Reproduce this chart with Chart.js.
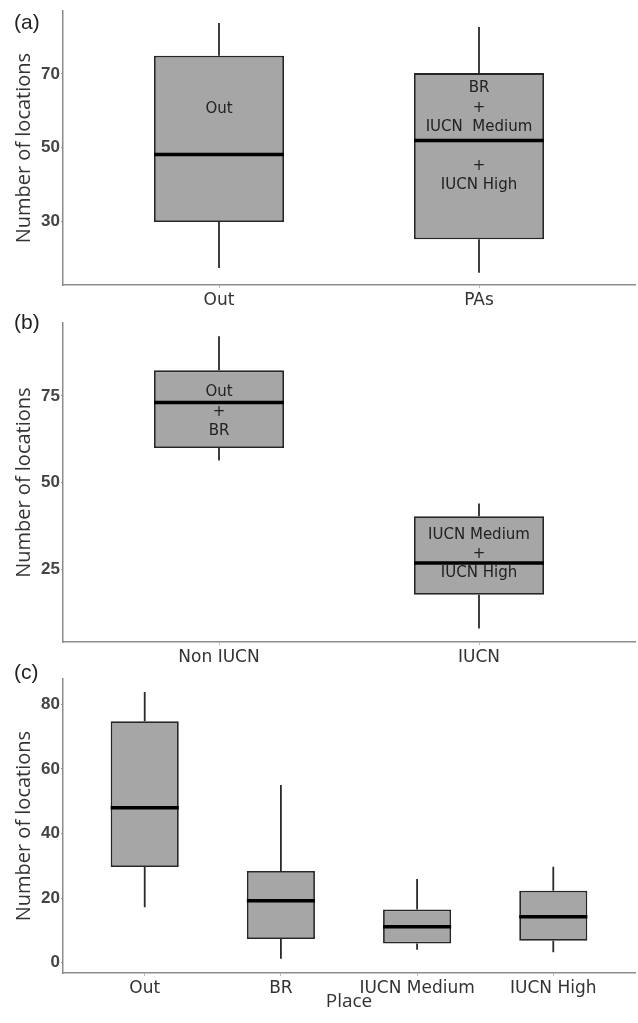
<!DOCTYPE html>
<html>
<head>
<meta charset="utf-8">
<script src="https://cdn.jsdelivr.net/npm/chart.js@4/dist/chart.umd.min.js"></script>
<style>
  body { margin: 0; background: #fff; width: 638px; height: 1023px; position: relative; overflow: hidden; }
  canvas { position: absolute; left: 0; }
  .tag { position: absolute; left: 14px; font: 21px "Liberation Sans", Arial, sans-serif; color: #222; }
</style>
</head>
<body>
<canvas id="chartA" width="638" height="312" style="top:0"></canvas>
<canvas id="chartB" width="638" height="356" style="top:312px"></canvas>
<canvas id="chartC" width="638" height="355" style="top:668px"></canvas>
<div class="tag" style="top:10px">(a)</div>
<div class="tag" style="top:310px">(b)</div>
<div class="tag" style="top:660px">(c)</div>
<script>
// (a) outside vs protected areas
const catsA = ['Out', 'PAs'];
const loA = [17.3, 16.0];
const q1A = [29.8, 25.1];
const medA = [48.1, 51.9];
const q3A = [74.9, 70.2];
const hiA = [83.8, 82.7];
const yTicksA = [30, 50, 70];
const notesA = [['Out'], ['BR', '+', 'IUCN  Medium', '', '+', 'IUCN High']];
const noteTopA = [60.4, 66.0];

// (b) non IUCN vs IUCN
const catsB = ['Non IUCN', 'IUCN'];
const loB = [56.4, 7.9];
const q1B = [60.0, 17.6];
const medB = [73.1, 26.8];
const q3B = [82.4, 40.3];
const hiB = [92.2, 44.0];
const yTicksB = [25, 50, 75];
const notesB = [['Out', '+', 'BR'], ['IUCN Medium', '+', 'IUCN High']];
const noteTopB = [76.0, 34.9];

// (c) each place
const catsC = ['Out', 'BR', 'IUCN Medium', 'IUCN High'];
const loC = [17.2, 1.2, 4.0, 3.2];
const q1C = [29.6, 7.3, 5.9, 6.8];
const medC = [48.0, 19.2, 11.1, 14.2];
const q3C = [74.8, 28.4, 16.5, 22.3];
const hiC = [83.8, 55.0, 25.9, 29.7];
const yTicksC = [0, 20, 40, 60, 80];

Chart.defaults.font.family = '"DejaVu Sans", Verdana, sans-serif';
Chart.defaults.color = '#333';

const boxParts = {
  id: 'boxParts',
  beforeDatasetsDraw(chart, args, opts) {
    const { ctx, scales: { x, y } } = chart;
    ctx.save();
    ctx.strokeStyle = '#2b2b2b';
    ctx.lineWidth = 1.8;
    opts.lo.forEach((v, i) => {
      const px = x.getPixelForValue(i);
      ctx.beginPath();
      ctx.moveTo(px, y.getPixelForValue(opts.hi[i]));
      ctx.lineTo(px, y.getPixelForValue(opts.q3[i]));
      ctx.moveTo(px, y.getPixelForValue(opts.q1[i]));
      ctx.lineTo(px, y.getPixelForValue(v));
      ctx.stroke();
    });
    ctx.restore();
  },
  afterDatasetsDraw(chart, args, opts) {
    const { ctx, scales: { x, y } } = chart;
    const bars = chart.getDatasetMeta(0).data;
    ctx.save();
    ctx.strokeStyle = '#000';
    ctx.lineWidth = 3.5;
    bars.forEach((bar, i) => {
      const py = y.getPixelForValue(opts.med[i]);
      ctx.beginPath();
      ctx.moveTo(bar.x - bar.width / 2, py);
      ctx.lineTo(bar.x + bar.width / 2, py);
      ctx.stroke();
    });
    if (opts.notes) {
      ctx.fillStyle = '#222';
      ctx.font = '15px "DejaVu Sans", Verdana, sans-serif';
      ctx.textAlign = 'center';
      ctx.textBaseline = 'middle';
      opts.notes.forEach((lines, i) => {
        const px = x.getPixelForValue(i);
        const top = y.getPixelForValue(opts.noteTop[i]);
        lines.forEach((t, k) => ctx.fillText(t, px, top + k * 19.3));
      });
    }
    ctx.restore();
  }
};

function makeChart(id, cats, lo, q1, med, q3, hi, yMin, yMax, yTicks, notes, noteTop, padTop, xHeight, xTitle) {
  return new Chart(document.getElementById(id), {
    type: 'bar',
    data: {
      datasets: [{
        data: cats.map((c, i) => ({ x: i, y: [q1[i], q3[i]] })),
        backgroundColor: '#a6a6a6',
        borderColor: '#262626',
        borderWidth: 1.8,
        borderSkipped: false,
        categoryPercentage: 1,
        barPercentage: 0.5
      }]
    },
    options: {
      responsive: false,
      animation: false,
      layout: { padding: { top: padTop, right: 3, left: 0, bottom: 0 } },
      plugins: {
        legend: { display: false },
        tooltip: { enabled: false },
        boxParts: { lo, q1, med, q3, hi, notes, noteTop }
      },
      scales: {
        x: {
          type: 'linear',
          offset: false,
          min: -0.6,
          max: cats.length - 0.4,
          afterBuildTicks: s => { s.ticks = cats.map((c, i) => ({ value: i })); },
          afterFit: s => { s.height = xHeight; },
          ticks: {
            callback: v => cats[v],
            font: { size: 17, lineHeight: 1 },
            color: '#333',
            padding: 4,
            maxRotation: 0,
            autoSkip: false
          },
          grid: { offset: false, drawOnChartArea: false, tickLength: 3, color: '#bbb' },
          border: { color: '#8c8c8c', width: 1.5 },
          title: {
            display: !!xTitle,
            text: xTitle || '',
            font: { family: '"Open Sans", sans-serif', size: 19, lineHeight: 1.2 },
            color: '#333',
            padding: { top: 0, bottom: 10 }
          }
        },
        y: {
          min: yMin,
          max: yMax,
          afterBuildTicks: s => { s.ticks = yTicks.map(v => ({ value: v })); },
          afterFit: s => { s.width = 63; },
          ticks: {
            font: { family: '"Liberation Sans", Arial, sans-serif', size: 17, weight: 'bold' },
            color: '#444',
            padding: 1
          },
          grid: { drawOnChartArea: false, tickLength: 2, color: '#999' },
          border: { color: '#8c8c8c', width: 1.5 },
          title: {
            display: true,
            text: 'Number of locations',
            font: { family: '"Open Sans", sans-serif', size: 20, lineHeight: 1.2 },
            color: '#333',
            padding: { top: 12, bottom: 0 }
          }
        }
      }
    },
    plugins: [boxParts]
  });
}

makeChart('chartA', catsA, loA, q1A, medA, q3A, hiA, 12.7, 87, yTicksA, notesA, noteTopA, 10, 27, null);
makeChart('chartB', catsB, loB, q1B, medB, q3B, hiB, 4, 96, yTicksB, notesB, noteTopB, 7, 26, null);
makeChart('chartC', catsC, loC, q1C, medC, q3C, hiC, -3.2, 87.8, yTicksC, null, null, 5, 50, 'Place');
</script>
</body>
</html>
